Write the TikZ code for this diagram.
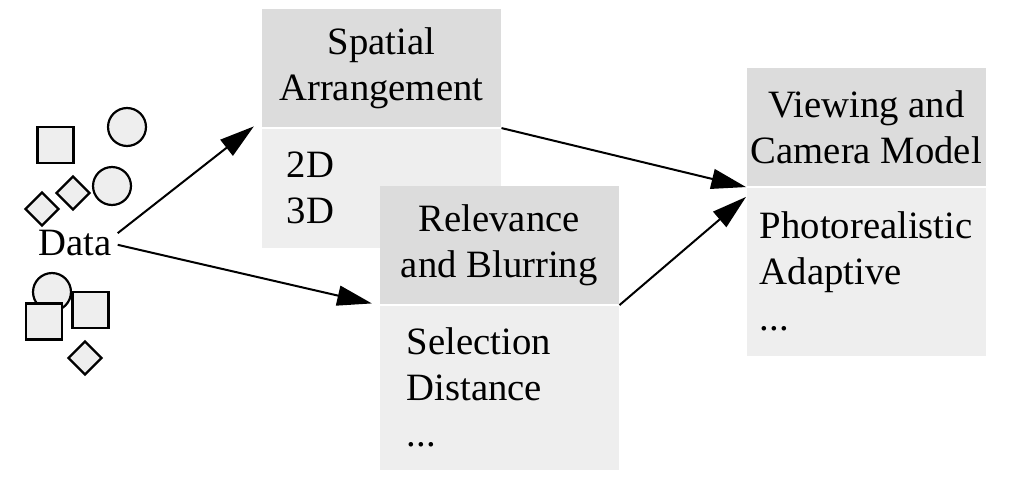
\documentclass[tikz,border=0pt]{standalone}
\usepackage{fontspec}
\setmainfont{Liberation Serif}
\usetikzlibrary{arrows.meta,positioning,shapes.geometric}
\definecolor{headgray}{HTML}{DCDCDC}
\definecolor{bodygray}{HTML}{EEEEEE}
\begin{document}
\begin{tikzpicture}
	 [x=0.274pt, y=-0.274pt]
	 \tikzset{node distance=0pt, font=\fontsize{10.6}{12.6}\selectfont}
	\tikzstyle{head}=[rectangle,fill=headgray,minimum width=65.5pt,align=center,minimum height=32.5pt,inner sep=0pt]
	\tikzstyle{body}=[rectangle,fill=bodygray,minimum width=65.5pt,align=left,inner ysep=0pt]
	\tikzstyle{item}=[draw=black,fill=bodygray,line width=0.6pt,inner sep=0pt]
	\tikzstyle{link}=[line width=0.55pt,-{Triangle[length=9.5pt,width=5.5pt]}]
	\useasboundingbox (0,0) rectangle (1029,477);
	% data cloud
	\node [item,circle,minimum size=10.4pt] (ci3) at (52,292) {};
	\node [item,rectangle,minimum size=9.9pt] (sq1) at (55.5,145) {};
	\node [item,circle,minimum size=10.4pt] (ci1) at (127,127) {};
	\node [item,circle,minimum size=10.4pt] (ci2) at (112,186) {};
	\node [item,diamond,minimum size=9.3pt] (di1) at (73,193) {};
	\node [item,diamond,minimum size=9.3pt] (di2) at (42,209) {};
	\node [item,rectangle,minimum size=9.9pt] (sq2) at (44,321.5) {};
	\node [item,rectangle,minimum size=9.9pt] (sq3) at (90.5,310) {};
	\node [item,diamond,minimum size=9.3pt] (di3) at (85,358) {};
	\node [inner sep=1.5pt] (data) at (75,243) {Data};
	% stages
	\node [head,anchor=north west] (sphead) at (261,8) {Spatial\\Arrangement};
	\node [body,inner xsep=6.9pt,text width=51.7pt,minimum height=32.6pt,below=of sphead] (spbody) {2D\\3D};
	\node [head,anchor=north west] (relhead) at (379,185) {Relevance\\and Blurring};
	\node [body,inner xsep=7.4pt,text width=50.7pt,minimum height=44.9pt,below=of relhead] (relbody) {Selection\\Distance\\...};
	\node [head,anchor=north west] (vwhead) at (746,67) {Viewing and\\Camera Model};
	\node [body,inner xsep=3.6pt,text width=58.3pt,minimum height=46pt,below=of vwhead] (vwbody) {Photorealistic\\Adaptive\\...};
	% links
	\draw [link,shorten >=2.5pt] ([yshift=2.7pt]data.east) -- ([yshift=2pt]spbody.north west);
	\draw [link,shorten >=2pt] ([yshift=-0.5pt]data.east) -- (relbody.north west);
	\draw [link] (sphead.south east) -- (vwbody.north west);
	\draw [link] (relhead.south east) -- ([yshift=-2.7pt]vwbody.north west);
\end{tikzpicture}
\end{document}
